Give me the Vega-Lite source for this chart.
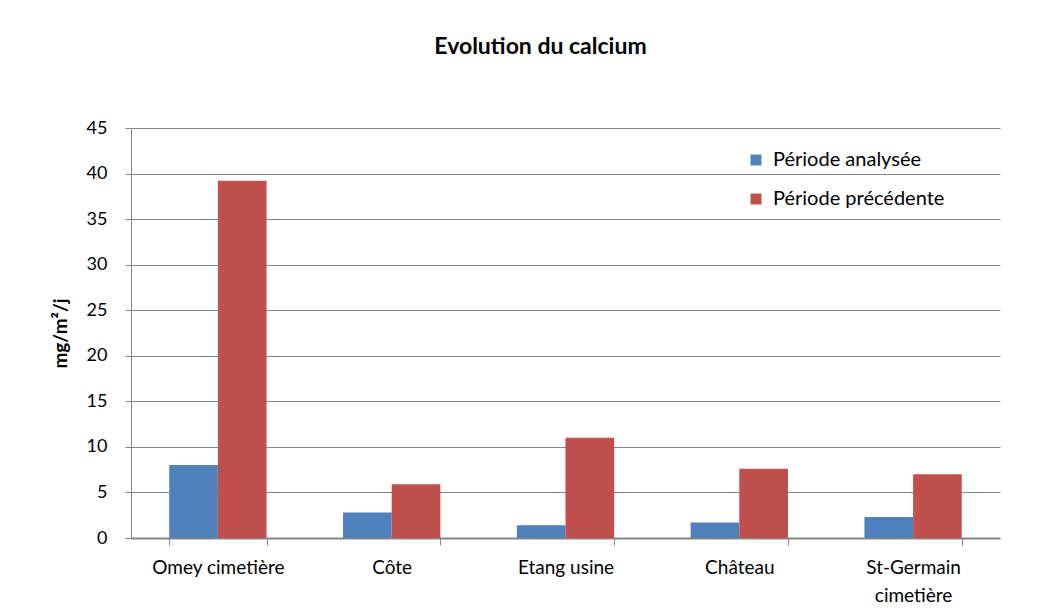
{
  "$schema": "https://vega.github.io/schema/vega-lite/v6.json",
  "width": 869,
  "height": 410,
  "autosize": "none",
  "padding": {"left": 131, "top": 128, "right": 58, "bottom": 75},
  "background": "white",
  "title": {
    "text": "Evolution du calcium",
    "font": "Lato",
    "fontSize": 23,
    "fontWeight": "bold",
    "color": "#000000",
    "anchor": "middle",
    "offset": 60,
    "dx": -25
  },
  "data": {
    "values": [
      {"site": "Omey cimetière", "periode": "Période analysée", "valeur": 8.0},
      {"site": "Omey cimetière", "periode": "Période précédente", "valeur": 39.2},
      {"site": "Côte", "periode": "Période analysée", "valeur": 2.8},
      {"site": "Côte", "periode": "Période précédente", "valeur": 5.9},
      {"site": "Etang usine", "periode": "Période analysée", "valeur": 1.4},
      {"site": "Etang usine", "periode": "Période précédente", "valeur": 11.0},
      {"site": "Château", "periode": "Période analysée", "valeur": 1.7},
      {"site": "Château", "periode": "Période précédente", "valeur": 7.6},
      {"site": "St-Germain cimetière", "periode": "Période analysée", "valeur": 2.3},
      {"site": "St-Germain cimetière", "periode": "Période précédente", "valeur": 7.0}
    ]
  },
  "mark": {"type": "bar"},
  "encoding": {
    "x": {
      "field": "site",
      "type": "nominal",
      "sort": null,
      "scale": {"paddingInner": 0.44, "paddingOuter": 0.22},
      "axis": {
        "title": null,
        "labelAngle": 0,
        "labelFont": "Lato",
        "labelFontSize": 19,
        "labelColor": "#000000",
        "labelPadding": 13,
        "labelLineHeight": 28,
        "labelExpr": "datum.label == 'St-Germain cimetière' ? ['St-Germain', 'cimetière'] : datum.label",
        "domainColor": "#868686",
        "domainWidth": 2,
        "tickBand": "extent",
        "tickColor": "#868686",
        "tickSize": 7,
        "grid": false
      }
    },
    "xOffset": {"field": "periode", "sort": null},
    "y": {
      "field": "valeur",
      "type": "quantitative",
      "scale": {"domain": [0, 45]},
      "axis": {
        "title": "mg/m²/j",
        "titleFont": "Lato",
        "titleFontSize": 19,
        "titleFontWeight": "bold",
        "titleColor": "#000000",
        "titlePadding": 16,
        "values": [0, 5, 10, 15, 20, 25, 30, 35, 40, 45],
        "labelFont": "Lato",
        "labelFontSize": 18,
        "labelColor": "#000000",
        "labelPadding": 18,
        "tickSize": 6,
        "tickColor": "#868686",
        "domainColor": "#868686",
        "gridColor": "#868686",
        "gridWidth": 1
      }
    },
    "color": {
      "field": "periode",
      "type": "nominal",
      "sort": null,
      "scale": {"range": ["#4F81BD", "#C0504D"]},
      "legend": {
        "title": null,
        "orient": "none",
        "legendX": 615,
        "legendY": 22,
        "symbolType": "square",
        "symbolSize": 120,
        "symbolStrokeWidth": 0,
        "labelFont": "Lato",
        "labelFontSize": 20,
        "labelColor": "#000000",
        "labelLimit": 400,
        "rowPadding": 19,
        "labelOffset": 7
      }
    }
  },
  "config": {"view": {"stroke": null}}
}
